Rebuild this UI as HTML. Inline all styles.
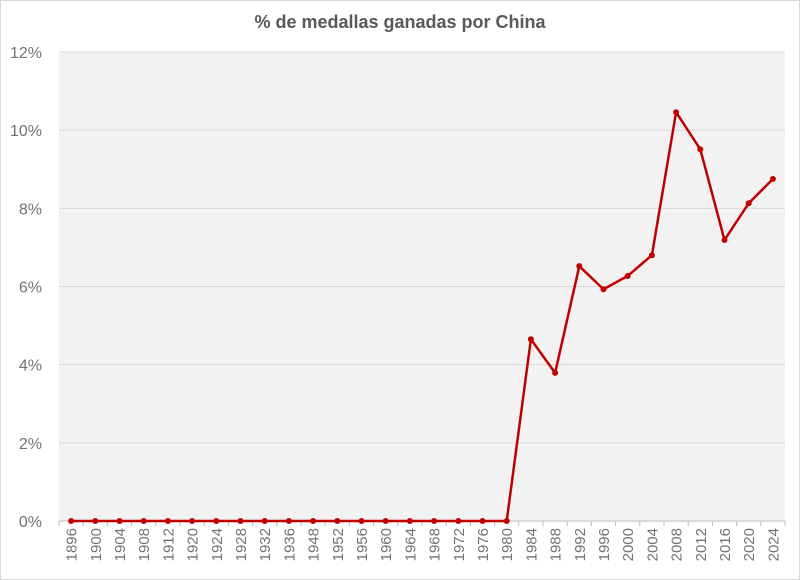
<!DOCTYPE html>
<html><head><meta charset="utf-8"><style>
html,body{margin:0;padding:0;background:#fff;}
svg{display:block;font-family:"Liberation Sans",Arial,sans-serif;}
</style></head><body>
<svg id="chart" width="800" height="580" viewBox="0 0 800 580" xmlns="http://www.w3.org/2000/svg">
<rect x="0.5" y="0.5" width="799" height="579" fill="#fff" stroke="#d9d9d9"/>
<text x="400" y="28" text-anchor="middle" font-size="18" font-weight="bold" fill="#595959">% de medallas ganadas por China</text>
<rect x="59" y="52" width="726" height="469" fill="#f2f2f2"/>
<g id="grid"></g><g id="yticks"></g><g id="xticks"></g><g id="series"></g>
</svg>
<script>
const categories=["1896","1900","1904","1908","1912","1920","1924","1928","1932","1936","1948","1952","1956","1960","1964","1968","1972","1976","1980","1984","1988","1992","1996","2000","2004","2008","2012","2016","2020","2024"];
const values=[0,0,0,0,0,0,0,0,0,0,0,0,0,0,0,0,0,0,0,4.65,3.79,6.52,5.93,6.27,6.80,10.46,9.51,7.19,8.13,8.75];
const yTicks=[0,2,4,6,8,10,12];
const yTickLabels=["0%","2%","4%","6%","8%","10%","12%"];

const NS="http://www.w3.org/2000/svg";
const L=59,R=785,T=52,B=521,yMax=12;
const band=(R-L)/categories.length;
const xs=i=>L+band*(i+0.5);
const ys=v=>B-(v/yMax)*(B-T);
function mk(tag,attrs,parent){const e=document.createElementNS(NS,tag);for(const k in attrs)e.setAttribute(k,attrs[k]);parent.appendChild(e);return e;}
const grid=document.getElementById('grid'),yt=document.getElementById('yticks'),xt=document.getElementById('xticks'),se=document.getElementById('series');
yTicks.forEach((v,i)=>{
  const y=ys(v);
  const g=mk('line',{x1:L,x2:R,y1:y,y2:y,stroke:v===0?'#bfbfbf':'#d9d9d9','stroke-width':1},grid);
  
  
  const t=mk('text',{x:42,y:y+6,'text-anchor':'end','font-size':16,fill:'#767171'},yt);
  t.textContent=yTickLabels[i];
  
  
});
for(let i=0;i<=categories.length;i++){
  const x=L+band*i;
  const tk=mk('line',{x1:x,x2:x,y1:B,y2:B+5,stroke:'#bfbfbf','stroke-width':1},grid);
  
  
}
categories.forEach((c,i)=>{
  const x=xs(i);
  const t=mk('text',{x:0,y:0,'text-anchor':'end','font-size':15,fill:'#767171',transform:`translate(${x+5.5},${528}) rotate(-90)`},xt);
  t.textContent=c;
  
  
});
const pts=values.map((v,i)=>xs(i)+','+ys(v)).join(' ');
const pl=mk('polyline',{points:pts,fill:'none',stroke:'#c00000','stroke-width':2.5,'stroke-linejoin':'round'},se);


values.forEach((v,i)=>{
  const c=mk('circle',{cx:xs(i),cy:ys(v),r:3,fill:'#c00000'},se);
  
  
});
</script>
</body></html>
